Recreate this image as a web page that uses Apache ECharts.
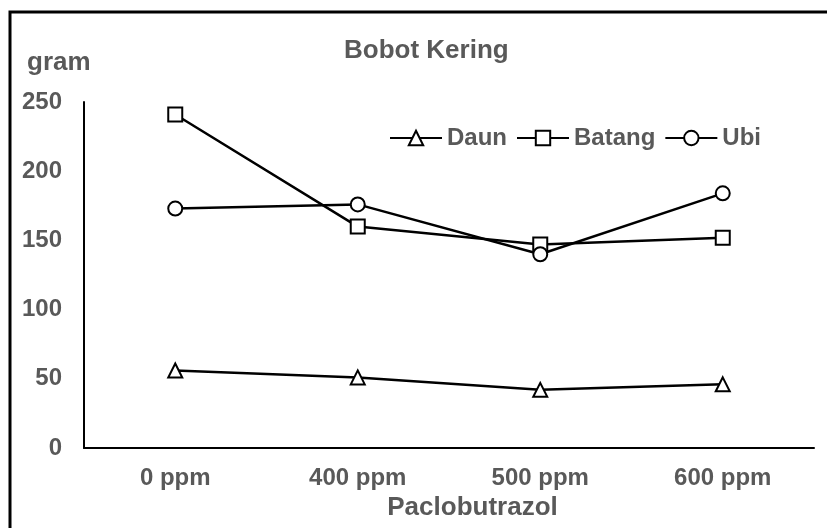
<!DOCTYPE html>
<html><head><meta charset="utf-8">
<script src="https://cdn.jsdelivr.net/npm/echarts@6/dist/echarts.min.js"></script>
<style>html,body{margin:0;padding:0;background:#fff}#c{width:827px;height:528px}</style>
</head><body><div id="c"></div>
<script>
const categories = ['0 ppm', '400 ppm', '500 ppm', '600 ppm'];
const daun = [56, 51, 42, 46];
const batang = [241, 160, 147, 152];
const ubi = [173, 176, 140, 184];
const yTicks = [0, 50, 100, 150, 200, 250];

const gray = '#595959';
const font = 'Liberation Sans, Arial, sans-serif';
const chart = echarts.init(document.getElementById('c'), null, {renderer: 'canvas'});
function mk(name, data, symbol) {
  return {
    name, type: 'line', data, symbol, symbolSize: 14,
    lineStyle: {color: '#000', width: 2.5},
    itemStyle: {color: '#fff', borderColor: '#000', borderWidth: 2},
    emphasis: {disabled: true}, animation: false
  };
}
chart.setOption({
  animation: false,
  graphic: [
    {type: 'rect', shape: {x: 10, y: 12, width: 830, height: 540}, style: {fill: 'none', stroke: '#000', lineWidth: 3}, z: 100},
    {type: 'text', left: 27, top: 50, style: {text: 'gram', font: 'bold 26px ' + font, fill: gray}}
  ],
  title: {text: 'Bobot Kering', left: 339, top: 33,
    textStyle: {fontFamily: font, fontWeight: 'bold', fontSize: 26, color: gray}},
  legend: {
    left: 384, top: 121, itemWidth: 52, itemHeight: 18, itemGap: 9,
    textStyle: {fontFamily: font, fontWeight: 'bold', fontSize: 24, color: gray},
    data: ['Daun', 'Batang', 'Ubi']
  },
  grid: {left: 84, right: 13, top: 102, bottom: 80, containLabel: false},
  xAxis: {
    type: 'category', data: categories, boundaryGap: true,
    axisLine: {lineStyle: {color: '#000', width: 2}}, axisTick: {show: false},
    axisLabel: {margin: 18, fontFamily: font, fontWeight: 'bold', fontSize: 24, color: gray},
    name: 'Paclobutrazol', nameLocation: 'middle', nameGap: 46,
    nameTextStyle: {fontFamily: font, fontWeight: 'bold', fontSize: 26, color: gray, padding: [0, 0, 0, 47]}
  },
  yAxis: {
    type: 'value', min: yTicks[0], max: yTicks[yTicks.length - 1], interval: 50,
    axisLine: {show: true, lineStyle: {color: '#000', width: 2}}, axisTick: {show: false},
    splitLine: {show: false},
    axisLabel: {margin: 22, fontFamily: font, fontWeight: 'bold', fontSize: 24, color: gray}
  },
  series: [mk('Daun', daun, 'triangle'), mk('Batang', batang, 'rect'), mk('Ubi', ubi, 'circle')]
});
</script></body></html>
